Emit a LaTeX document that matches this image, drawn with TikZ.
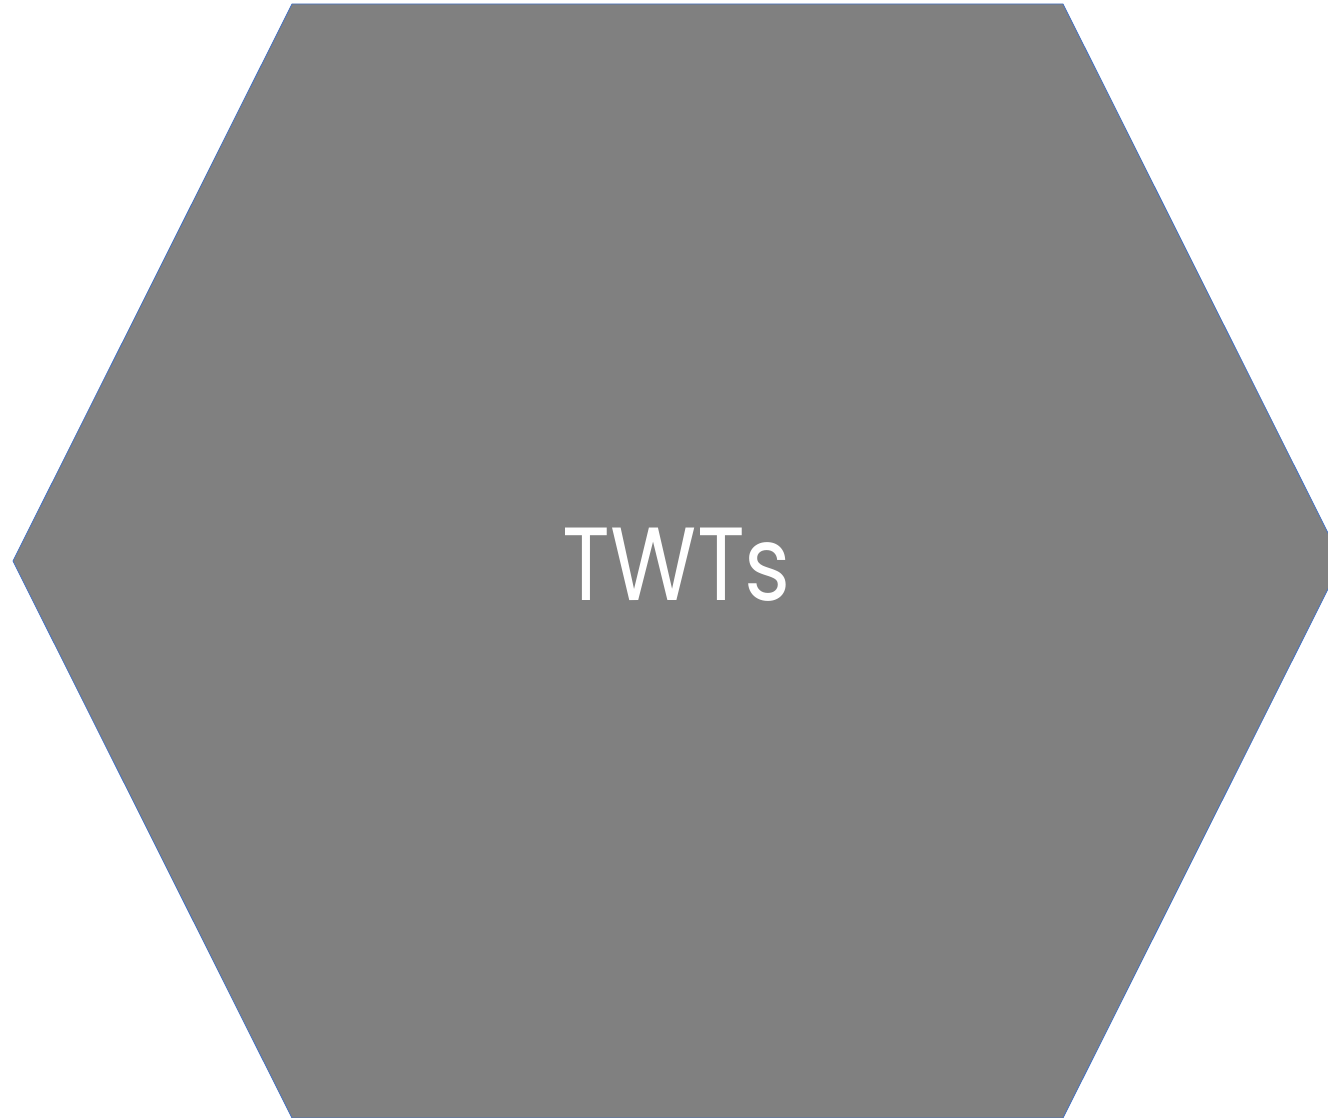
\documentclass[tikz,border=0pt]{standalone}
\usepackage{fontspec}
\newfontfamily\hexfont{Poppins}
\definecolor{hexgray}{HTML}{808080}
\definecolor{hexblue}{HTML}{4472C4}
\tikzset{
  hexshape/.style={fill=hexgray, draw=hexblue, line width=0.8pt, line join=miter},
  hexlabel/.style={text=white, font=\hexfont\fontsize{104}{114}\selectfont, inner sep=0pt, xscale=0.85}
}
\begin{document}
\begin{tikzpicture}[x=1pt,y=-1pt]
\useasboundingbox (0,0) rectangle (1328,1118);
\clip (0,0) rectangle (1328,1118);
\path[hexshape] (292,4) -- (1063,4) -- (1342,561) -- (1063,1118) -- (292,1118) -- (13,561) -- cycle;
\node[hexlabel] (label) at (677,565) {TWTs};
\end{tikzpicture}
\end{document}
